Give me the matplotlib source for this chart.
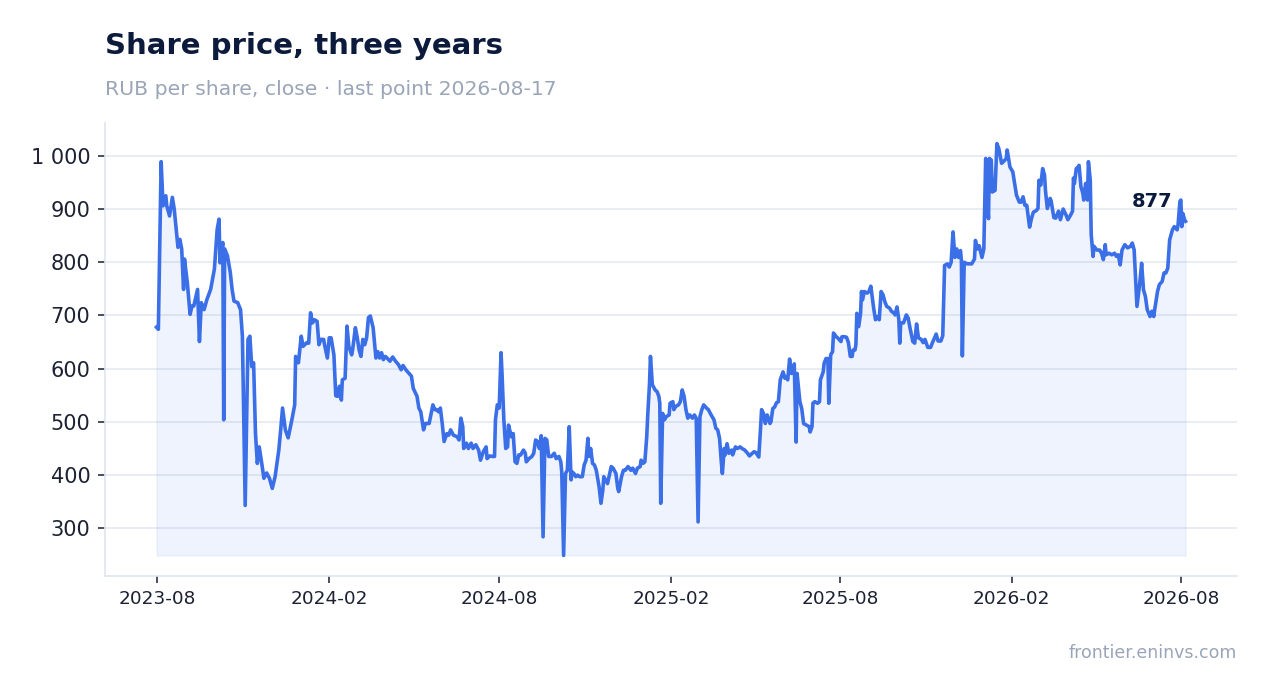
import matplotlib; matplotlib.use("agg")
import matplotlib.pyplot as plt
import matplotlib.dates as mdates
from matplotlib.ticker import MultipleLocator, FuncFormatter
import numpy as np
import pandas as pd

# closing prices (days counted from the first close)
start_date = "2023-07-31"
day = [
    0, 2, 5, 7, 10, 11, 14, 17, 19, 23, 25, 27, 29, 30, 33, 36, 38, 40, 44, 46,
    48, 51, 54, 58, 60, 62, 65, 67, 68, 71, 72, 73, 76, 79, 81, 83, 87, 90, 92, 95,
    98, 100, 102, 104, 106, 108, 110, 113, 115, 118, 121, 124, 127, 131, 133, 135, 138, 141, 145, 148,
    149, 152, 155, 157, 161, 163, 165, 167, 169, 172, 174, 176, 179, 180, 183, 185, 187, 190, 192, 194,
    196, 198, 199, 202, 204, 206, 209, 210, 213, 215, 217, 219, 221, 223, 225, 227, 229, 232, 235, 237,
    239, 241, 243, 245, 247, 250, 253, 256, 259, 262, 264, 267, 270, 273, 275, 279, 281, 283, 286, 288,
    292, 296, 298, 300, 302, 304, 306, 308, 311, 313, 315, 318, 322, 324, 326, 328, 329, 332, 334, 337,
    339, 342, 345, 347, 350, 353, 354, 357, 360, 362, 363, 365, 367, 369, 370, 372, 374, 376, 377, 380,
    382, 384, 386, 388, 390, 393, 395, 396, 399, 402, 404, 406, 408, 410, 412, 414, 416, 418, 420, 423,
    426, 428, 431, 433, 434, 436, 438, 440, 442, 444, 445, 447, 449, 451, 453, 456, 458, 460, 462, 463,
    465, 467, 469, 471, 474, 476, 478, 479, 483, 487, 489, 492, 494, 495, 498, 500, 502, 505, 508, 510,
    513, 515, 518, 519, 521, 523, 525, 526, 528, 529, 531, 534, 536, 538, 539, 540, 542, 544, 546, 549,
    550, 553, 554, 556, 559, 561, 563, 565, 567, 569, 571, 574, 576, 578, 580, 582, 584, 586, 589, 591,
    594, 597, 599, 601, 603, 605, 606, 608, 609, 611, 613, 616, 617, 620, 622, 625, 627, 630, 633, 635,
    638, 640, 642, 645, 647, 648, 650, 652, 654, 657, 658, 660, 662, 664, 666, 668, 671, 673, 674, 676,
    678, 680, 682, 683, 685, 686, 689, 691, 693, 696, 699, 700, 702, 703, 705, 708, 710, 711, 714, 715,
    717, 719, 720, 722, 724, 725, 728, 730, 733, 734, 737, 739, 741, 743, 745, 746, 748, 749, 750, 752,
    754, 755, 756, 758, 761, 763, 765, 768, 770, 772, 774, 776, 778, 780, 782, 785, 787, 790, 791, 793,
    795, 796, 797, 800, 803, 805, 807, 810, 812, 814, 816, 819, 821, 823, 826, 829, 831, 835, 837, 840,
    842, 844, 847, 849, 851, 853, 855, 857, 859, 861, 862, 863, 865, 868, 870, 873, 876, 877, 879, 881,
    884, 886, 888, 889, 891, 892, 894, 895, 898, 900, 902, 905, 907, 910, 911, 914, 917, 919, 921, 924,
    926, 928, 930, 932, 934, 935, 937, 939, 942, 944, 945, 947, 949, 951, 952, 954, 957, 958, 961, 963,
    966, 968, 971, 974, 976, 979, 981, 982, 983, 985, 987, 988, 990, 992, 993, 995, 997, 998, 1000, 1001,
    1003, 1004, 1007, 1010, 1012, 1014, 1016, 1017, 1020, 1023, 1026, 1028, 1030, 1032, 1034, 1037, 1040, 1043, 1045, 1047,
    1049, 1050, 1053, 1055, 1057, 1059, 1061, 1064, 1066, 1068, 1069, 1072, 1074, 1077, 1079, 1081, 1083, 1085, 1088, 1090,
    1093, 1094, 1096, 1097, 1098, 1099, 1101, 1102,
]
price = [
    678, 674, 989, 906, 925, 906, 887, 922, 900, 828, 843, 825, 749, 806, 762, 702, 718, 718, 749, 651,
    724, 711, 730, 749, 768, 787, 862, 881, 799, 837, 504, 825, 812, 781, 749, 727, 724, 711, 661, 343,
    655, 661, 604, 611, 479, 422, 453, 419, 394, 404, 394, 375, 397, 447, 485, 526, 485, 470, 504, 532,
    623, 611, 661, 642, 649, 648, 705, 686, 692, 689, 645, 655, 655, 645, 620, 658, 658, 626, 549, 548,
    567, 541, 579, 582, 680, 642, 626, 635, 677, 658, 635, 623, 655, 645, 658, 696, 699, 677, 620, 632,
    620, 630, 617, 623, 620, 614, 622, 614, 608, 598, 606, 598, 592, 586, 563, 548, 526, 519, 485, 497,
    497, 532, 523, 523, 519, 526, 497, 463, 478, 475, 485, 475, 472, 466, 507, 491, 450, 460, 450, 460,
    450, 457, 447, 428, 444, 453, 431, 436, 435, 435, 504, 532, 526, 630, 592, 504, 450, 453, 494, 472,
    478, 425, 422, 438, 438, 447, 441, 425, 431, 435, 441, 466, 463, 450, 474, 284, 469, 466, 435, 435,
    441, 431, 435, 425, 406, 249, 403, 409, 491, 391, 406, 403, 397, 400, 397, 397, 419, 428, 469, 435,
    450, 422, 419, 409, 378, 347, 372, 397, 384, 416, 413, 403, 375, 369, 397, 409, 409, 416, 409, 413,
    403, 413, 416, 428, 422, 425, 472, 510, 573, 623, 570, 560, 557, 548, 535, 347, 516, 504, 510, 513,
    535, 538, 523, 529, 532, 538, 560, 548, 523, 507, 513, 507, 513, 507, 312, 510, 523, 532, 526, 523,
    513, 504, 488, 485, 469, 422, 403, 450, 438, 459, 441, 447, 438, 453, 450, 453, 450, 447, 441, 436,
    441, 444, 442, 434, 491, 523, 516, 497, 513, 497, 500, 525, 528, 536, 538, 579, 594, 582, 585, 579,
    618, 591, 601, 609, 462, 591, 538, 525, 497, 494, 491, 481, 491, 535, 538, 535, 538, 579, 594, 610,
    619, 619, 535, 626, 632, 667, 660, 657, 651, 660, 660, 659, 649, 623, 623, 635, 635, 645, 704, 679,
    704, 745, 729, 745, 742, 745, 755, 714, 692, 698, 692, 745, 739, 726, 717, 714, 708, 704, 701, 716,
    692, 648, 686, 686, 701, 695, 676, 651, 648, 684, 658, 655, 649, 655, 640, 640, 649, 665, 652, 652,
    662, 794, 797, 791, 800, 857, 809, 825, 809, 822, 803, 624, 800, 797, 797, 797, 806, 841, 825, 831,
    809, 825, 995, 942, 882, 995, 992, 932, 935, 1023, 1014, 986, 989, 995, 1011, 979, 970, 948, 926, 913,
    913, 923, 907, 907, 879, 866, 882, 894, 897, 901, 954, 945, 976, 964, 935, 901, 920, 916, 884, 883,
    896, 880, 900, 889, 880, 889, 896, 958, 948, 976, 979, 982, 942, 930, 917, 948, 917, 989, 954, 852,
    811, 830, 823, 823, 817, 805, 833, 814, 817, 814, 817, 811, 814, 795, 823, 833, 827, 830, 836, 823,
    755, 717, 761, 798, 748, 736, 711, 698, 708, 698, 711, 745, 758, 764, 780, 780, 789, 842, 861, 867,
    861, 870, 914, 917, 867, 892, 880, 877,
]

dates = pd.to_datetime(start_date) + pd.to_timedelta(day, unit="D")
price = np.array(price)

navy = "#0c1a3c"
blue = "#3b6fe8"
grey = "#9aa5b8"
ink = "#1c2233"

fig = plt.figure(figsize=(12.67, 6.93), dpi=100)
ax = fig.add_axes([0.0829, 0.1688, 0.8934, 0.6537])

ax.fill_between(dates, price, price.min(), color=blue, alpha=0.08, linewidth=1)
ax.plot(dates, price, color=blue, lw=2.6, solid_joinstyle="round", zorder=3)

ax.annotate(f"{price[-1]:.0f}", (dates[-1], price[-1]), xytext=(-9.5, 10),
            textcoords="offset points", ha="right", va="baseline",
            fontsize=14, fontweight="bold", color=navy)

ax.yaxis.set_major_locator(MultipleLocator(100))
ax.yaxis.set_major_formatter(FuncFormatter(lambda v, p: f"{v:,.0f}".replace(",", " ")))
ax.xaxis.set_major_locator(mdates.MonthLocator(bymonth=[2, 8]))
ax.xaxis.set_major_formatter(mdates.DateFormatter("%Y-%m"))

ax.grid(axis="y", color="#e3e7f0", lw=1.1)
ax.set_axisbelow(True)
for s in ["top", "right"]:
    ax.spines[s].set_visible(False)
for s in ["left", "bottom"]:
    ax.spines[s].set_color("#dfe4ee")
    ax.spines[s].set_linewidth(1.2)
ax.tick_params(axis="y", labelsize=15, colors="#2b3140", labelcolor=ink, length=5, width=1.2, pad=5.5)
ax.tick_params(axis="x", labelsize=13.3, colors="#2b3140", labelcolor=ink, length=5, width=1.2, pad=5)

fig.text(0.0829, 0.922, "Share price, three years", fontsize=21, fontweight="bold",
         color=navy, va="baseline")
fig.text(0.0829, 0.863, "RUB per share, close \u00b7 last point 2026-08-17", fontsize=14.7,
         color=grey, va="baseline")
fig.text(0.9763, 0.051, "frontier.eninvs.com", fontsize=12.5, color=grey,
         ha="right", va="baseline")

plt.savefig("out.png", dpi=100)
